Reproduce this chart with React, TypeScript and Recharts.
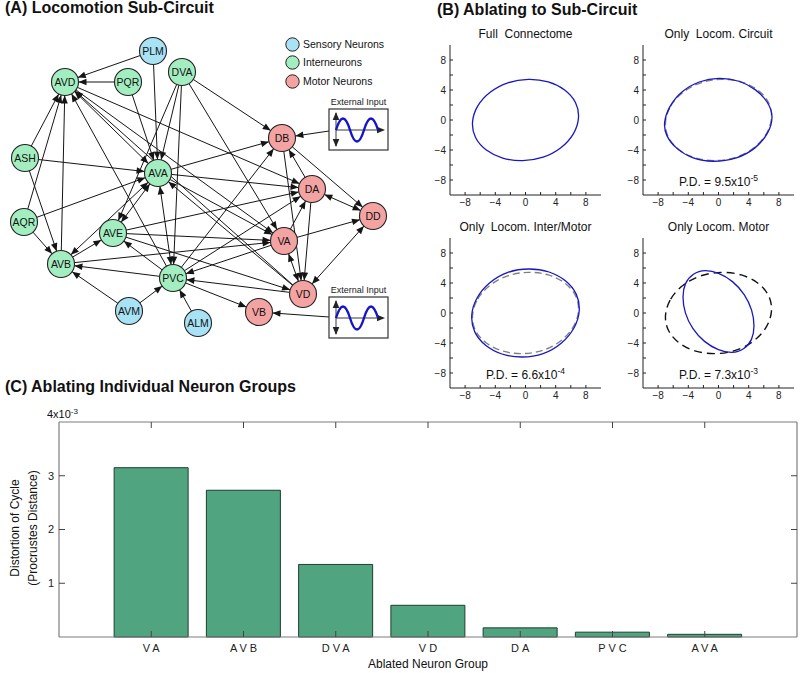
import React from "react";
import {
  Bar,
  BarChart,
  Line,
  LineChart,
  ReferenceLine,
  Scatter,
  ScatterChart,
  XAxis,
  YAxis,
} from "recharts";

const FONT = '"Liberation Sans", Arial, Helvetica, sans-serif';

// ---------- (A) locomotion sub-circuit ----------
const sensoryNeurons = [
  { name: "PLM", x: 153, y: 51 },
  { name: "AVM", x: 129, y: 311 },
  { name: "ALM", x: 198, y: 323 },
];
const interneurons = [
  { name: "AVD", x: 65, y: 82 },
  { name: "PQR", x: 128, y: 82 },
  { name: "DVA", x: 182, y: 72 },
  { name: "ASH", x: 25, y: 158 },
  { name: "AVA", x: 158, y: 173 },
  { name: "AQR", x: 24, y: 222 },
  { name: "AVE", x: 113, y: 233 },
  { name: "AVB", x: 61, y: 264 },
  { name: "PVC", x: 173, y: 278 },
];
const motorNeurons = [
  { name: "DB", x: 282, y: 138 },
  { name: "DA", x: 312, y: 189 },
  { name: "DD", x: 373, y: 216 },
  { name: "VA", x: 284, y: 241 },
  { name: "VD", x: 303, y: 294 },
  { name: "VB", x: 259, y: 312 },
];

// [from, to, bidirectional]
const synapses: [string, string, boolean][] = [
  ["PLM", "AVD", false], ["PLM", "AVA", false], ["PQR", "AVD", false], ["PQR", "AVA", false],
  ["DVA", "AVA", false], ["DVA", "AVE", false], ["DVA", "PVC", false], ["DVA", "DB", false],
  ["DVA", "VA", false], ["ASH", "AVD", false], ["ASH", "AVA", false], ["ASH", "AVB", false],
  ["AQR", "AVD", false], ["AQR", "AVA", false], ["AQR", "AVB", false], ["AVD", "DA", false],
  ["AVA", "AVD", true], ["AVB", "AVD", false], ["PVC", "AVD", false], ["VD", "AVD", false],
  ["AVD", "VA", false], ["AVA", "DB", false], ["AVA", "DA", false], ["AVA", "VA", false],
  ["VD", "AVA", false], ["AVA", "PVC", true], ["AVA", "AVE", true], ["AVA", "AVB", true],
  ["AVB", "AVE", false], ["AVB", "VA", false], ["PVC", "AVB", false], ["PVC", "AVE", false],
  ["AVM", "AVB", false], ["AVM", "PVC", false], ["ALM", "PVC", false], ["AVE", "VA", false],
  ["AVE", "DA", false], ["AVE", "VD", false], ["PVC", "DB", false], ["PVC", "DA", false],
  ["VA", "PVC", false], ["VD", "PVC", false], ["PVC", "VB", false], ["DA", "DB", false],
  ["DB", "DD", false], ["DB", "VD", false], ["DA", "DD", true], ["DA", "VD", false],
  ["VA", "DA", false], ["VA", "DD", false], ["VA", "VD", true], ["VD", "DD", true],
];

const externalInputs = [
  { target: "DB", x: 329, y: 131 },
  { target: "VB", x: 329, y: 317 },
];

const legendItems = [
  { label: "Sensory Neurons", color: "#a8e2f5" },
  { label: "Interneurons", color: "#a3eec0" },
  { label: "Motor Neurons", color: "#f4a3a3" },
];

// ---------- (B) limit cycles (closed loops) ----------
const fullCycle: [number, number][] = [
  [-7.2, -0.3], [-6.5, 1.9], [-4.8, 3.8], [-2.4, 5.1], [0.4, 5.55], [3.1, 5.2], [5.3, 4.1], [6.8, 2.4],
  [7.2, 0.3], [6.5, -1.9], [4.8, -3.8], [2.4, -5.1], [-0.4, -5.55], [-3.1, -5.2], [-5.3, -4.1], [-6.8, -2.4],
];
const circuitCycle: [number, number][] = [
  [-7.3, -0.4], [-6.6, 1.8], [-4.9, 3.9], [-2.6, 5.2], [0.0, 5.7], [2.8, 5.3], [5.0, 4.1], [6.6, 2.4],
  [7.3, 0.5], [6.7, -1.7], [5.0, -3.8], [2.5, -5.2], [-0.8, -5.65], [-3.4, -5.2], [-5.6, -3.9], [-7.0, -2.1],
];
const interMotorCycle: [number, number][] = [
  [-7.3, -0.3], [-6.6, 2.0], [-4.9, 4.1], [-2.4, 5.6], [0.5, 6.0], [3.2, 5.6], [5.4, 4.4], [6.9, 2.6],
  [7.3, 0.3], [6.6, -2.0], [4.9, -4.1], [2.4, -5.6], [-0.5, -6.0], [-3.2, -5.6], [-5.4, -4.4], [-6.9, -2.6],
];
const motorCycle: [number, number][] = [
  [3.4, -4.9], [4.5, -3.6], [4.8, -1.8], [4.5, 0.4], [3.5, 2.5], [1.9, 4.3], [0.0, 5.4], [-1.8, 5.8],
  [-3.4, 5.3], [-4.5, 4.0], [-4.8, 2.2], [-4.5, 0.0], [-3.5, -2.1], [-1.9, -3.9], [0.0, -5.0], [1.8, -5.4],
];
const cycleTicks = [-8, -6, -4, -2, 0, 2, 4, 6, 8];

// ---------- (C) ablation ----------
const ablatedGroups = ["VA", "AVB", "DVA", "VD", "DA", "PVC", "AVA"];
const distortion = [3.15, 2.73, 1.35, 0.59, 0.17, 0.09, 0.05]; // x10^-3
const distortionTicks = [1, 2, 3];

const NODE_R = 13.5;
const HEAD_L = 8;
const HEAD_W = 3.3;
const INK = "#151515";

const allNeurons = [...sensoryNeurons, ...interneurons, ...motorNeurons];
const findNeuron = (name: string) => allNeurons.find((n) => n.name === name)!;

const arrowHead = (tx: number, ty: number, ux: number, uy: number) => {
  const bx = tx - ux * HEAD_L;
  const by = ty - uy * HEAD_L;
  return `${tx},${ty} ${bx - uy * HEAD_W},${by + ux * HEAD_W} ${bx + uy * HEAD_W},${by - ux * HEAD_W}`;
};

const edgeShape = (r1: number, r2: number, both: boolean) => (p: any) => {
  const { x1, y1, x2, y2 } = p;
  const dx = x2 - x1;
  const dy = y2 - y1;
  const len = Math.hypot(dx, dy) || 1;
  const ux = dx / len;
  const uy = dy / len;
  const sx = x1 + ux * r1;
  const sy = y1 + uy * r1;
  const ex = x2 - ux * r2;
  const ey = y2 - uy * r2;
  return (
    <g>
      <line x1={sx} y1={sy} x2={ex} y2={ey} stroke={INK} strokeWidth={1} />
      <polygon points={arrowHead(ex, ey, ux, uy)} fill={INK} />
      {both && <polygon points={arrowHead(sx, sy, -ux, -uy)} fill={INK} />}
    </g>
  );
};

const neuronShape = (color: string) => (p: any) => (
  <g>
    <circle cx={p.cx} cy={p.cy} r={NODE_R} fill={color} stroke="#222" strokeWidth={1.1} />
    <text
      x={p.cx}
      y={p.cy}
      dy="0.36em"
      textAnchor="middle"
      fontSize={10.5}
      fontFamily={FONT}
      fill="#111"
    >
      {p.payload.name}
    </text>
  </g>
);

function ExternalInputGlyph({ x, y }: { x: number; y: number }) {
  const ax = x + 7;
  const my = y + 21;
  return (
    <g>
      <text x={x + 29.5} y={y - 4} textAnchor="middle" fontSize={9} fontFamily={FONT} fill="#222">
        External Input
      </text>
      <rect x={x} y={y} width={59} height={41} fill="#fff" stroke="#333" strokeWidth={1.2} />
      <line x1={ax} y1={y + 4} x2={ax} y2={y + 37} stroke="#222" strokeWidth={0.9} />
      <polygon points={arrowHead(ax, y + 3, 0, -1)} fill="#222" />
      <polygon points={arrowHead(ax, y + 38, 0, 1)} fill="#222" />
      <line x1={ax} y1={my} x2={x + 54} y2={my} stroke="#222" strokeWidth={0.9} />
      <polygon points={arrowHead(x + 56, my, 1, 0)} fill="#222" />
      <path
        d={`M${ax},${my} Q${ax + 7},${my - 23} ${ax + 14},${my} T${ax + 28},${my} T${ax + 42},${my}`}
        fill="none"
        stroke="#1414c8"
        strokeWidth={2.4}
      />
    </g>
  );
}

function NetworkPanel() {
  return (
    <div style={{ position: "absolute", left: 0, top: 0 }}>
      <ScatterChart width={400} height={350} margin={{ top: 0, right: 0, bottom: 0, left: 0 }}>
        <XAxis type="number" dataKey="x" domain={[0, 400]} hide />
        <YAxis type="number" dataKey="y" domain={[0, 350]} reversed hide />
        {synapses.map(([a, b, both]) => {
          const p = findNeuron(a);
          const q = findNeuron(b);
          return (
            <ReferenceLine
              key={`${a}-${b}`}
              segment={[{ x: p.x, y: p.y }, { x: q.x, y: q.y }]}
              ifOverflow="visible"
              shape={edgeShape(NODE_R, NODE_R, both)}
            />
          );
        })}
        {externalInputs.map((e) => {
          const q = findNeuron(e.target);
          return (
            <ReferenceLine
              key={`ext-${e.target}`}
              segment={[{ x: e.x, y: e.y }, { x: q.x, y: q.y }]}
              ifOverflow="visible"
              shape={edgeShape(0, NODE_R, false)}
            />
          );
        })}
        <Scatter name="Sensory Neurons" data={sensoryNeurons} shape={neuronShape(legendItems[0].color)} isAnimationActive={false} />
        <Scatter name="Interneurons" data={interneurons} shape={neuronShape(legendItems[1].color)} isAnimationActive={false} />
        <Scatter name="Motor Neurons" data={motorNeurons} shape={neuronShape(legendItems[2].color)} isAnimationActive={false} />
      </ScatterChart>
      <svg width={400} height={350} style={{ position: "absolute", left: 0, top: 0, pointerEvents: "none" }}>
        <ExternalInputGlyph x={329} y={109} />
        <ExternalInputGlyph x={329} y={297} />
      </svg>
      {legendItems.map((item, i) => (
        <div
          key={item.label}
          style={{
            position: "absolute",
            left: 285,
            top: 36.5 + i * 18.5,
            display: "flex",
            alignItems: "center",
            fontSize: 10.5,
            lineHeight: "15px",
            whiteSpace: "nowrap",
          }}
        >
          <svg width={15} height={15}>
            <circle cx={7.5} cy={7.5} r={6.7} fill={item.color} stroke="#222" strokeWidth={1} />
          </svg>
          <span style={{ marginLeft: 3 }}>{item.label}</span>
        </div>
      ))}
    </div>
  );
}

// ---------- cycle plots ----------
const PLOT_W = 151;
const PLOT_H = 150;
const AX_L = 28;
const AX_B = 18;
const PAD = 4;
const TICK = 3;

const fmtMinus = (v: number) => String(v).replace("-", "\u2212");

const cycleTick = (side: "bottom" | "top" | "left" | "right") => (p: any) => {
  const v = p.payload.value;
  const show = v % 4 === 0;
  if (side === "bottom") {
    return (
      <g>
        <line x1={p.x} x2={p.x} y1={p.y - 4} y2={p.y - 4 - TICK} stroke="#222" />
        {show && (
          <text x={p.x} y={p.y} dy="0.71em" textAnchor="middle" fontSize={10} fontFamily={FONT} fill="#222">
            {fmtMinus(v)}
          </text>
        )}
      </g>
    );
  }
  if (side === "left") {
    return (
      <g>
        <line x1={p.x + 4} x2={p.x + 4 + TICK} y1={p.y} y2={p.y} stroke="#222" />
        {show && (
          <text x={p.x} y={p.y} dy="0.36em" textAnchor="end" fontSize={10} fontFamily={FONT} fill="#222">
            {fmtMinus(v)}
          </text>
        )}
      </g>
    );
  }
  if (side === "top") {
    return <line x1={p.x} x2={p.x} y1={p.y} y2={p.y + TICK} stroke="#222" />;
  }
  return <line x1={p.x} x2={p.x - TICK} y1={p.y} y2={p.y} stroke="#222" />;
};

const toPoints = (c: [number, number][]) => c.map(([x, y]) => ({ x, y }));

interface CyclePlotProps {
  left: number;
  top: number;
  title: string;
  cycle: [number, number][];
  reference?: [number, number][];
  refStroke?: string;
  refDash?: string;
  pd?: [string, string];
}

function CyclePlot({ left, top, title, cycle, reference, refStroke, refDash, pd }: CyclePlotProps) {
  return (
    <>
      <div
        style={{
          position: "absolute",
          left: left - 20,
          top: top - 18,
          width: PLOT_W + 40,
          textAlign: "center",
          fontSize: 12,
          lineHeight: "14px",
          whiteSpace: "pre",
        }}
      >
        {title}
      </div>
      <div style={{ position: "absolute", left: left - AX_L, top: top - PAD }}>
        <LineChart
          width={AX_L + PLOT_W + PAD}
          height={PAD + PLOT_H + AX_B}
          margin={{ top: PAD, right: PAD, bottom: 0, left: 0 }}
        >
          <XAxis
            xAxisId="b"
            type="number"
            dataKey="x"
            domain={[-10, 10]}
            ticks={cycleTicks}
            interval={0}
            height={AX_B}
            tickSize={0}
            tickMargin={4}
            tickLine={false}
            axisLine={{ stroke: "#222" }}
            tick={cycleTick("bottom")}
            allowDataOverflow
          />
          <XAxis
            xAxisId="t"
            orientation="top"
            type="number"
            dataKey="x"
            domain={[-10, 10]}
            ticks={cycleTicks}
            interval={0}
            height={0}
            tickSize={0}
            tickMargin={0}
            tickLine={false}
            axisLine={{ stroke: "#222" }}
            tick={cycleTick("top")}
            allowDataOverflow
          />
          <YAxis
            yAxisId="l"
            type="number"
            domain={[-10, 10]}
            ticks={cycleTicks}
            interval={0}
            width={AX_L}
            tickSize={0}
            tickMargin={4}
            tickLine={false}
            axisLine={{ stroke: "#222" }}
            tick={cycleTick("left")}
            allowDataOverflow
          />
          <YAxis
            yAxisId="r"
            orientation="right"
            type="number"
            domain={[-10, 10]}
            ticks={cycleTicks}
            interval={0}
            width={0}
            tickSize={0}
            tickMargin={0}
            tickLine={false}
            axisLine={{ stroke: "#222" }}
            tick={cycleTick("right")}
            allowDataOverflow
          />
          {reference && (
            <Line
              xAxisId="b"
              yAxisId="l"
              data={toPoints(reference)}
              dataKey="y"
              type="basisClosed"
              stroke={refStroke}
              strokeWidth={1.4}
              strokeDasharray={refDash}
              dot={false}
              activeDot={false}
              isAnimationActive={false}
            />
          )}
          <Line
            xAxisId="b"
            yAxisId="l"
            data={toPoints(cycle)}
            dataKey="y"
            type="basisClosed"
            stroke="#1818c0"
            strokeWidth={1.3}
            dot={false}
            activeDot={false}
            isAnimationActive={false}
          />
        </LineChart>
      </div>
      {pd && (
        <div
          style={{
            position: "absolute",
            left,
            top: top + PLOT_H - 20,
            width: PLOT_W,
            textAlign: "center",
            fontSize: 12,
            lineHeight: "14px",
            whiteSpace: "nowrap",
          }}
        >
          P.D. = {pd[0]}x10
          <span style={{ fontSize: 8.5, position: "relative", top: -5 }}>{pd[1]}</span>
        </div>
      )}
    </>
  );
}

// ---------- bar chart ticks ----------
const BOX = "#7d7d7d";
const TICK_INK = "#444";

const groupTick = (p: any) => (
  <g>
    <line x1={p.x} x2={p.x} y1={p.y - 7} y2={p.y - 13} stroke={TICK_INK} />
    <text
      x={p.x + 1.5}
      y={p.y}
      dy="0.71em"
      textAnchor="middle"
      fontSize={11}
      letterSpacing={3}
      fontFamily={FONT}
      fill="#222"
    >
      {ablatedGroups[p.payload.value - 1]}
    </text>
  </g>
);
const distLeftTick = (p: any) => (
  <g>
    <line x1={p.x + 5} x2={p.x + 11} y1={p.y} y2={p.y} stroke={TICK_INK} />
    <text x={p.x} y={p.y} dy="0.36em" textAnchor="end" fontSize={11} fontFamily={FONT} fill="#222">
      {p.payload.value}
    </text>
  </g>
);
// inward tick at the top end of a vertical reference line
const topTickShape = (p: any) => {
  const top = Math.min(p.y1, p.y2);
  return <line x1={p.x1} x2={p.x1} y1={top} y2={top + 6} stroke={TICK_INK} />;
};
// inward tick at the right end of a horizontal reference line
const rightTickShape = (p: any) => {
  const right = Math.max(p.x1, p.x2);
  return <line x1={right} x2={right - 6} y1={p.y1} y2={p.y1} stroke={TICK_INK} />;
};

const groupSlots = ablatedGroups.map((_, i) => i + 1);
const barData = ablatedGroups.map((group, i) => ({ group, slot: groupSlots[i], value: distortion[i] }));

function AblationPanel() {
  return (
    <div style={{ position: "absolute", left: 0, top: 400 }}>
      <BarChart
        width={800}
        height={273}
        data={barData}
        margin={{ top: 22, right: 3, bottom: 0, left: 0 }}
        barSize={74}
      >
        <XAxis
          type="number"
          dataKey="slot"
          domain={[0, 8]}
          ticks={groupSlots}
          height={36}
          interval={0}
          tickSize={0}
          tickMargin={7}
          tickLine={false}
          axisLine={{ stroke: BOX, strokeWidth: 1.2 }}
          tick={groupTick}
        />
        <YAxis
          type="number"
          domain={[0, 4]}
          ticks={distortionTicks}
          interval={0}
          width={59}
          tickSize={0}
          tickMargin={5}
          tickLine={false}
          axisLine={{ stroke: BOX, strokeWidth: 1.2 }}
          tick={distLeftTick}
        />
        <Bar dataKey="value" fill="#50a580" stroke="#1f3d2f" strokeWidth={1} isAnimationActive={false} />
        <ReferenceLine y={4} stroke={BOX} strokeWidth={1.2} ifOverflow="visible" />
        <ReferenceLine x={8} stroke={BOX} strokeWidth={1.2} ifOverflow="visible" />
        {groupSlots.map((s) => (
          <ReferenceLine key={`tt-${s}`} x={s} ifOverflow="visible" shape={topTickShape} />
        ))}
        {distortionTicks.map((v) => (
          <ReferenceLine key={`rt-${v}`} y={v} ifOverflow="visible" shape={rightTickShape} />
        ))}
      </BarChart>
      <div style={{ position: "absolute", left: 47, top: 8, fontSize: 11, lineHeight: "13px", whiteSpace: "nowrap" }}>
        4x10<span style={{ fontSize: 8, position: "relative", top: -4 }}>-3</span>
      </div>
      <div
        style={{
          position: "absolute",
          left: 328,
          top: 257,
          width: 200,
          textAlign: "center",
          fontSize: 12,
          lineHeight: "14px",
        }}
      >
        Ablated Neuron Group
      </div>
      {["Distortion of Cycle", "(Procrustes Distance)"].map((t, i) => (
        <div
          key={t}
          style={{
            position: "absolute",
            left: (i === 0 ? 15 : 32.5) - 100,
            top: 128 - 7,
            width: 200,
            textAlign: "center",
            fontSize: 12,
            lineHeight: "14px",
            transform: "rotate(-90deg)",
            whiteSpace: "nowrap",
          }}
        >
          {t}
        </div>
      ))}
    </div>
  );
}

const titleStyle: React.CSSProperties = {
  position: "absolute",
  fontSize: 16,
  fontWeight: "bold",
  lineHeight: "16px",
  whiteSpace: "nowrap",
};

export default function App() {
  return (
    <div
      style={{
        position: "absolute",
        left: 0,
        top: 0,
        width: 800,
        height: 673,
        overflow: "hidden",
        background: "#fff",
        fontFamily: FONT,
        color: "#111",
      }}
    >
      <NetworkPanel />
      <CyclePlot left={450} top={45} title={"Full  Connectome"} cycle={fullCycle} />
      <CyclePlot
        left={643}
        top={45}
        title={"Only  Locom. Circuit"}
        cycle={circuitCycle}
        reference={fullCycle}
        refStroke="#808080"
        refDash="7 4"
        pd={["9.5", "-5"]}
      />
      <CyclePlot
        left={450}
        top={238}
        title={"Only  Locom. Inter/Motor"}
        cycle={interMotorCycle}
        reference={fullCycle}
        refStroke="#808080"
        refDash="7 4"
        pd={["6.6", "-4"]}
      />
      <CyclePlot
        left={643}
        top={238}
        title={"Only Locom. Motor"}
        cycle={motorCycle}
        reference={fullCycle}
        refStroke="#111"
        refDash="8 5"
        pd={["7.3", "-3"]}
      />
      <AblationPanel />
      <div style={{ ...titleStyle, left: 5, top: 0 }}>(A) Locomotion Sub-Circuit</div>
      <div style={{ ...titleStyle, left: 437, top: 2 }}>(B) Ablating to Sub-Circuit</div>
      <div style={{ ...titleStyle, left: 5, top: 379 }}>(C) Ablating Individual Neuron Groups</div>
    </div>
  );
}
